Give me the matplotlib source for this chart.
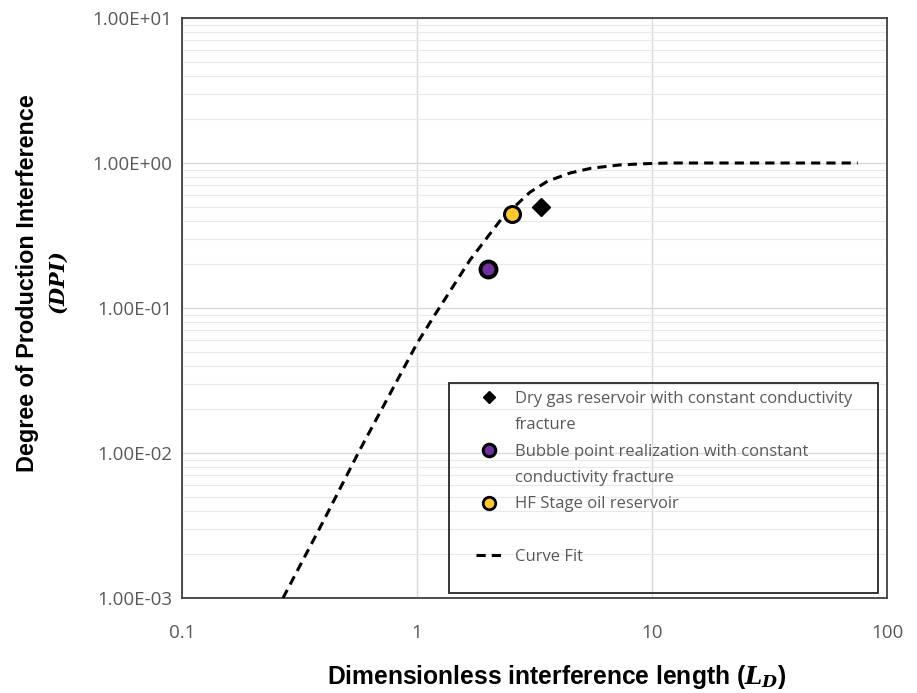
import matplotlib
matplotlib.use("Agg")
import matplotlib.pyplot as plt
from matplotlib.lines import Line2D
from matplotlib.patches import Rectangle
from matplotlib.ticker import FixedLocator, LogLocator, NullFormatter

plt.rcParams['mathtext.fontset'] = 'custom'
plt.rcParams['mathtext.bf'] = 'DejaVu Serif:italic:bold'
plt.rcParams['mathtext.rm'] = 'DejaVu Serif:bold'

# ---- data ----
curve_ld = [0.269, 0.4, 0.571, 0.8, 1.0, 1.19, 1.4, 1.68, 2.0, 2.32, 2.6, 3.03,
            3.6, 4.48, 5.5, 7.3, 9.5, 11.9, 20, 40, 75]
curve_dpi = [0.001, 0.0034, 0.0105, 0.029, 0.057, 0.0895, 0.135, 0.214, 0.31, 0.424,
             0.50, 0.63, 0.75, 0.853, 0.92, 0.97, 0.99, 1.0, 1.0, 1.0, 1.0]

dry_gas_ld = [3.37]
dry_gas_dpi = [0.50]
bubble_ld = [2.0]
bubble_dpi = [0.186]
hf_ld = [2.54]
hf_dpi = [0.445]

x_ticks = [0.1, 1, 10, 100]
x_ticklabels = ["0.1", "1", "10", "100"]
y_ticks = [1e-3, 1e-2, 1e-1, 1e0, 1e1]
y_ticklabels = ["1.00E-03", "1.00E-02", "1.00E-01", "1.00E+00", "1.00E+01"]

legend_labels = ["Dry gas reservoir with constant conductivity", "fracture",
                 "Bubble point realization with constant", "conductivity fracture",
                 "HF Stage oil reservoir", " ", "Curve Fit"]

W, H = 917, 693
fig = plt.figure(figsize=(W / 100, H / 100), dpi=100)
ax = fig.add_axes([182 / W, (H - 598) / H, (887 - 182) / W, (598 - 18) / H])

ax.set_xscale('log')
ax.set_yscale('log')
ax.set_xlim(0.1, 100)
ax.set_ylim(1e-3, 1e1)

dash = (0, (3.0, 2.0))
ax.plot(curve_ld, curve_dpi, color='black', lw=2.2, ls=dash, zorder=3)
ax.plot(dry_gas_ld, dry_gas_dpi, ls='none', marker='D', ms=9, color='black', zorder=4)
ax.plot(bubble_ld, bubble_dpi, ls='none', marker='o', ms=11.5, mfc='#7030A0',
        mec='black', mew=2.8, zorder=4)
ax.plot(hf_ld, hf_dpi, ls='none', marker='o', ms=11.5, mfc='#FFC832',
        mec='black', mew=2.2, zorder=4)

# ticks and grid
ax.xaxis.set_major_locator(FixedLocator(x_ticks))
ax.set_xticklabels(x_ticklabels)
ax.xaxis.set_minor_locator(FixedLocator([]))
ax.yaxis.set_major_locator(FixedLocator(y_ticks))
ax.set_yticklabels(y_ticklabels)
ax.yaxis.set_minor_locator(LogLocator(base=10, subs=range(2, 10), numticks=20))
ax.yaxis.set_minor_formatter(NullFormatter())
ax.tick_params(which='both', length=0)
ax.tick_params(axis='x', pad=19, labelsize=13.5, labelcolor='#595959')
ax.tick_params(axis='y', pad=7, labelsize=13.5, labelcolor='#595959')
for lab in ax.get_xticklabels() + ax.get_yticklabels():
    lab.set_family('Open Sans')

ax.grid(which='major', axis='both', color='#D9D9D9', lw=1.0, zorder=0)
ax.grid(which='minor', axis='y', color='#E8E8E8', lw=0.8, zorder=0)
ax.set_axisbelow(True)
for sp in ax.spines.values():
    sp.set_color('#404040')
    sp.set_linewidth(1.3)

# axis titles
fig.text(28 / W, 1 - 283 / H, "Degree of Production Interference", rotation=90,
         ha='center', va='center', fontsize=16.8, fontweight='bold',
         family='Liberation Sans')
fig.text(59 / W, 1 - 283 / H, r"$\mathbf{(DPI)}$", rotation=90,
         ha='center', va='center', fontsize=15)
fig.text(557 / W, 1 - 677 / H, r"Dimensionless interference length ($\mathbf{L_D}$)",
         ha='center', va='center', fontsize=17.7, fontweight='bold',
         family='Liberation Sans')

# legend
handles = [
    Line2D([], [], ls='none', marker='D', ms=6, color='black'),
    Line2D([], [], ls='none'),
    Line2D([], [], ls='none', marker='o', ms=9, mfc='#7030A0', mec='black', mew=2.2),
    Line2D([], [], ls='none'),
    Line2D([], [], ls='none', marker='o', ms=9, mfc='#FFC832', mec='black', mew=2.0),
    Line2D([], [], ls='none'),
    Line2D([], [], color='black', lw=2.2, ls=dash),
]
leg = ax.legend(handles, legend_labels, loc='upper left',
                bbox_to_anchor=((476 - 182) / 705, (598 - 391) / 580),
                frameon=False, borderpad=0, borderaxespad=0,
                handlelength=1.6, handletextpad=0.75, labelspacing=0.62,
                prop={'family': 'Open Sans', 'size': 12})
for t in leg.get_texts():
    t.set_color('#595959')
ax.add_patch(Rectangle(((449 - 182) / 705, (598 - 593) / 580),
                       (878 - 449) / 705, (593 - 383) / 580,
                       transform=ax.transAxes, fill=False, ec='#262626', lw=1.3,
                       zorder=5, clip_on=False))

fig.savefig("out.png", dpi=100)
